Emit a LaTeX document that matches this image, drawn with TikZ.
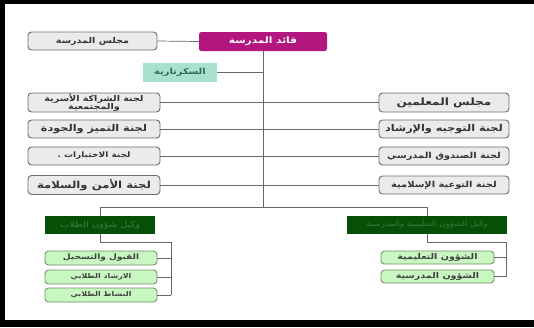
\documentclass[tikz,border=0pt]{standalone}
\usepackage{fontspec}
\usepackage{tikz}
\newfontfamily\arabicfont[Script=Arabic,FakeStretch=1.2]{DejaVu Sans}
\TeXXeTstate=1
\definecolor{leadmag}{HTML}{B3167F}
\definecolor{secmint}{HTML}{A8E2CF}
\definecolor{sectext}{HTML}{2F6B5C}
\definecolor{boxgray}{HTML}{EBEBEB}
\definecolor{edgegray}{HTML}{6E6E6E}
\definecolor{deepgreen}{HTML}{064F06}
\definecolor{dimgreen}{HTML}{3C7A3C}
\definecolor{palegreen}{HTML}{C8F7C2}
\definecolor{palerim}{HTML}{6F8F62}
\newcommand{\ar}[1]{\arabicfont\beginR #1\endR}
\newcommand{\fsz}[1]{\fontsize{#1}{#1}\selectfont\bfseries}

\begin{document}
\begin{tikzpicture}[x=0.03cm,y=-0.03cm,
	graybox/.style={draw=edgegray,line width=0.8pt,fill=boxgray,rounded corners=3pt,
		inner sep=0pt,font=\fsz{7},text=black!80},
	greenbox/.style={draw=palerim,line width=0.7pt,fill=palegreen,rounded corners=3pt,
		inner sep=0pt,font=\fsz{5.6},text=black!75},
	headbox/.style={fill=deepgreen,inner sep=0pt,minimum height=18*0.03cm,
		font=\fontsize{6.2}{7}\selectfont,text=dimgreen},
	link/.style={draw=black!60,line width=0.6pt}]
	\useasboundingbox (0,0) rectangle (534,327);
	\fill[black] (0,0) rectangle (534,4);
	\fill[black] (0,0) rectangle (5,327);
	\fill[black] (0,320) rectangle (534,327);

	\node[fill=leadmag,rounded corners=2pt,minimum width=128*0.03cm,minimum height=19*0.03cm,
		font=\fsz{7.5},text=white] (P0) at (263,41.5) {\ar{قائد المدرسة}};
	\node[graybox,minimum width=129*0.03cm,minimum height=18*0.03cm,font=\fsz{6.8}] (P1) at (92.5,41) {\ar{مجلس المدرسة}};
	\node[fill=secmint,minimum width=74*0.03cm,minimum height=19*0.03cm,
		font=\fsz{7},text=sectext] (P2) at (180,72.5) {\ar{السكرتارية}};

	\node[graybox,minimum width=132*0.03cm,minimum height=19*0.03cm,align=center,
		font=\fontsize{6.8}{6.9}\selectfont\bfseries] (L1) at (94,102.5) {\ar{لجنة الشراكة الأسرية}\\\ar{والمجتمعية}};
	\node[graybox,minimum width=132*0.03cm,minimum height=18*0.03cm,font=\fsz{8}] (L2) at (94,129) {\ar{لجنة التميز والجودة}};
	\node[graybox,minimum width=132*0.03cm,minimum height=18*0.03cm,font=\fsz{6.4}] (L3) at (94,156) {\ar{لجنة الاختبارات .}};
	\node[graybox,minimum width=132*0.03cm,minimum height=19*0.03cm,font=\fsz{8.3}] (L4) at (94,185) {\ar{لجنة الأمن والسلامة}};

	\node[graybox,minimum width=130*0.03cm,minimum height=19*0.03cm,font=\fsz{8.6}] (R1) at (444,102.5) {\ar{مجلس المعلمين}};
	\node[graybox,minimum width=130*0.03cm,minimum height=18*0.03cm,font=\fsz{8}] (R2) at (444,129) {\ar{لجنة التوجيه والإرشاد}};
	\node[graybox,minimum width=130*0.03cm,minimum height=18*0.03cm,font=\fsz{7}] (R3) at (444,156) {\ar{لجنة الصندوق المدرسي}};
	\node[graybox,minimum width=130*0.03cm,minimum height=18*0.03cm,font=\fsz{7}] (R4) at (444,185) {\ar{لجنة التوعية الإسلامية}};

	\node[headbox,minimum width=110*0.03cm,font=\fontsize{7}{8}\selectfont] (G1) at (100,225) {\ar{وكيل شؤون الطلاب}};
	\node[headbox,minimum width=160*0.03cm] (G2) at (427,225) {\ar{وكيل الشؤون التعليمية والمدرسية}};

	\node[greenbox,minimum width=112*0.03cm,minimum height=14*0.03cm,font=\fsz{6.4}] (S1) at (101,258) {\ar{القبول والتسجيل}};
	\node[greenbox,minimum width=112*0.03cm,minimum height=14*0.03cm] (S2) at (101,277) {\ar{الارشاد الطلابي}};
	\node[greenbox,minimum width=112*0.03cm,minimum height=14*0.03cm] (S3) at (101,295) {\ar{النشاط الطلابي}};
	\node[greenbox,minimum width=113*0.03cm,minimum height=13*0.03cm,font=\fsz{6.8}] (T1) at (437.5,257.5) {\ar{الشؤون التعليمية}};
	\node[greenbox,minimum width=113*0.03cm,minimum height=13*0.03cm,font=\fsz{6.8}] (T2) at (437.5,276.5) {\ar{الشؤون المدرسية}};

	\coordinate (bar) at (263,207);
	\coordinate (B1) at (171,242);
	\coordinate (B2) at (506,242);

	% trunk and side links
	\draw[link] (P1.east) -- (P0.west);
	\draw[link] (P0.south) -- (bar);
	\draw[link] (P2.east) -- (P2.east -| P0.south);
	\foreach \n in {L1,L2,L3,L4}
		\draw[link] (\n.east) -- (\n.east -| P0.south);
	\foreach \n in {R1,R2,R3,R4}
		\draw[link] (\n.west) -- (\n.west -| P0.south);
	\draw[link] (G1.north) -- (G1.north |- bar) -- (G2.north |- bar) -- (G2.north);

	% deputies
	\draw[link] (G1.south) |- (B1) -- (B1 |- S3.east);
	\foreach \n in {S1,S2,S3}
		\draw[link] (\n.east) -- (\n.east -| B1);
	\draw[link] (G2.south) |- (B2) -- (B2 |- T2.east);
	\foreach \n in {T1,T2}
		\draw[link] (\n.east) -- (\n.east -| B2);
\end{tikzpicture}
\end{document}
